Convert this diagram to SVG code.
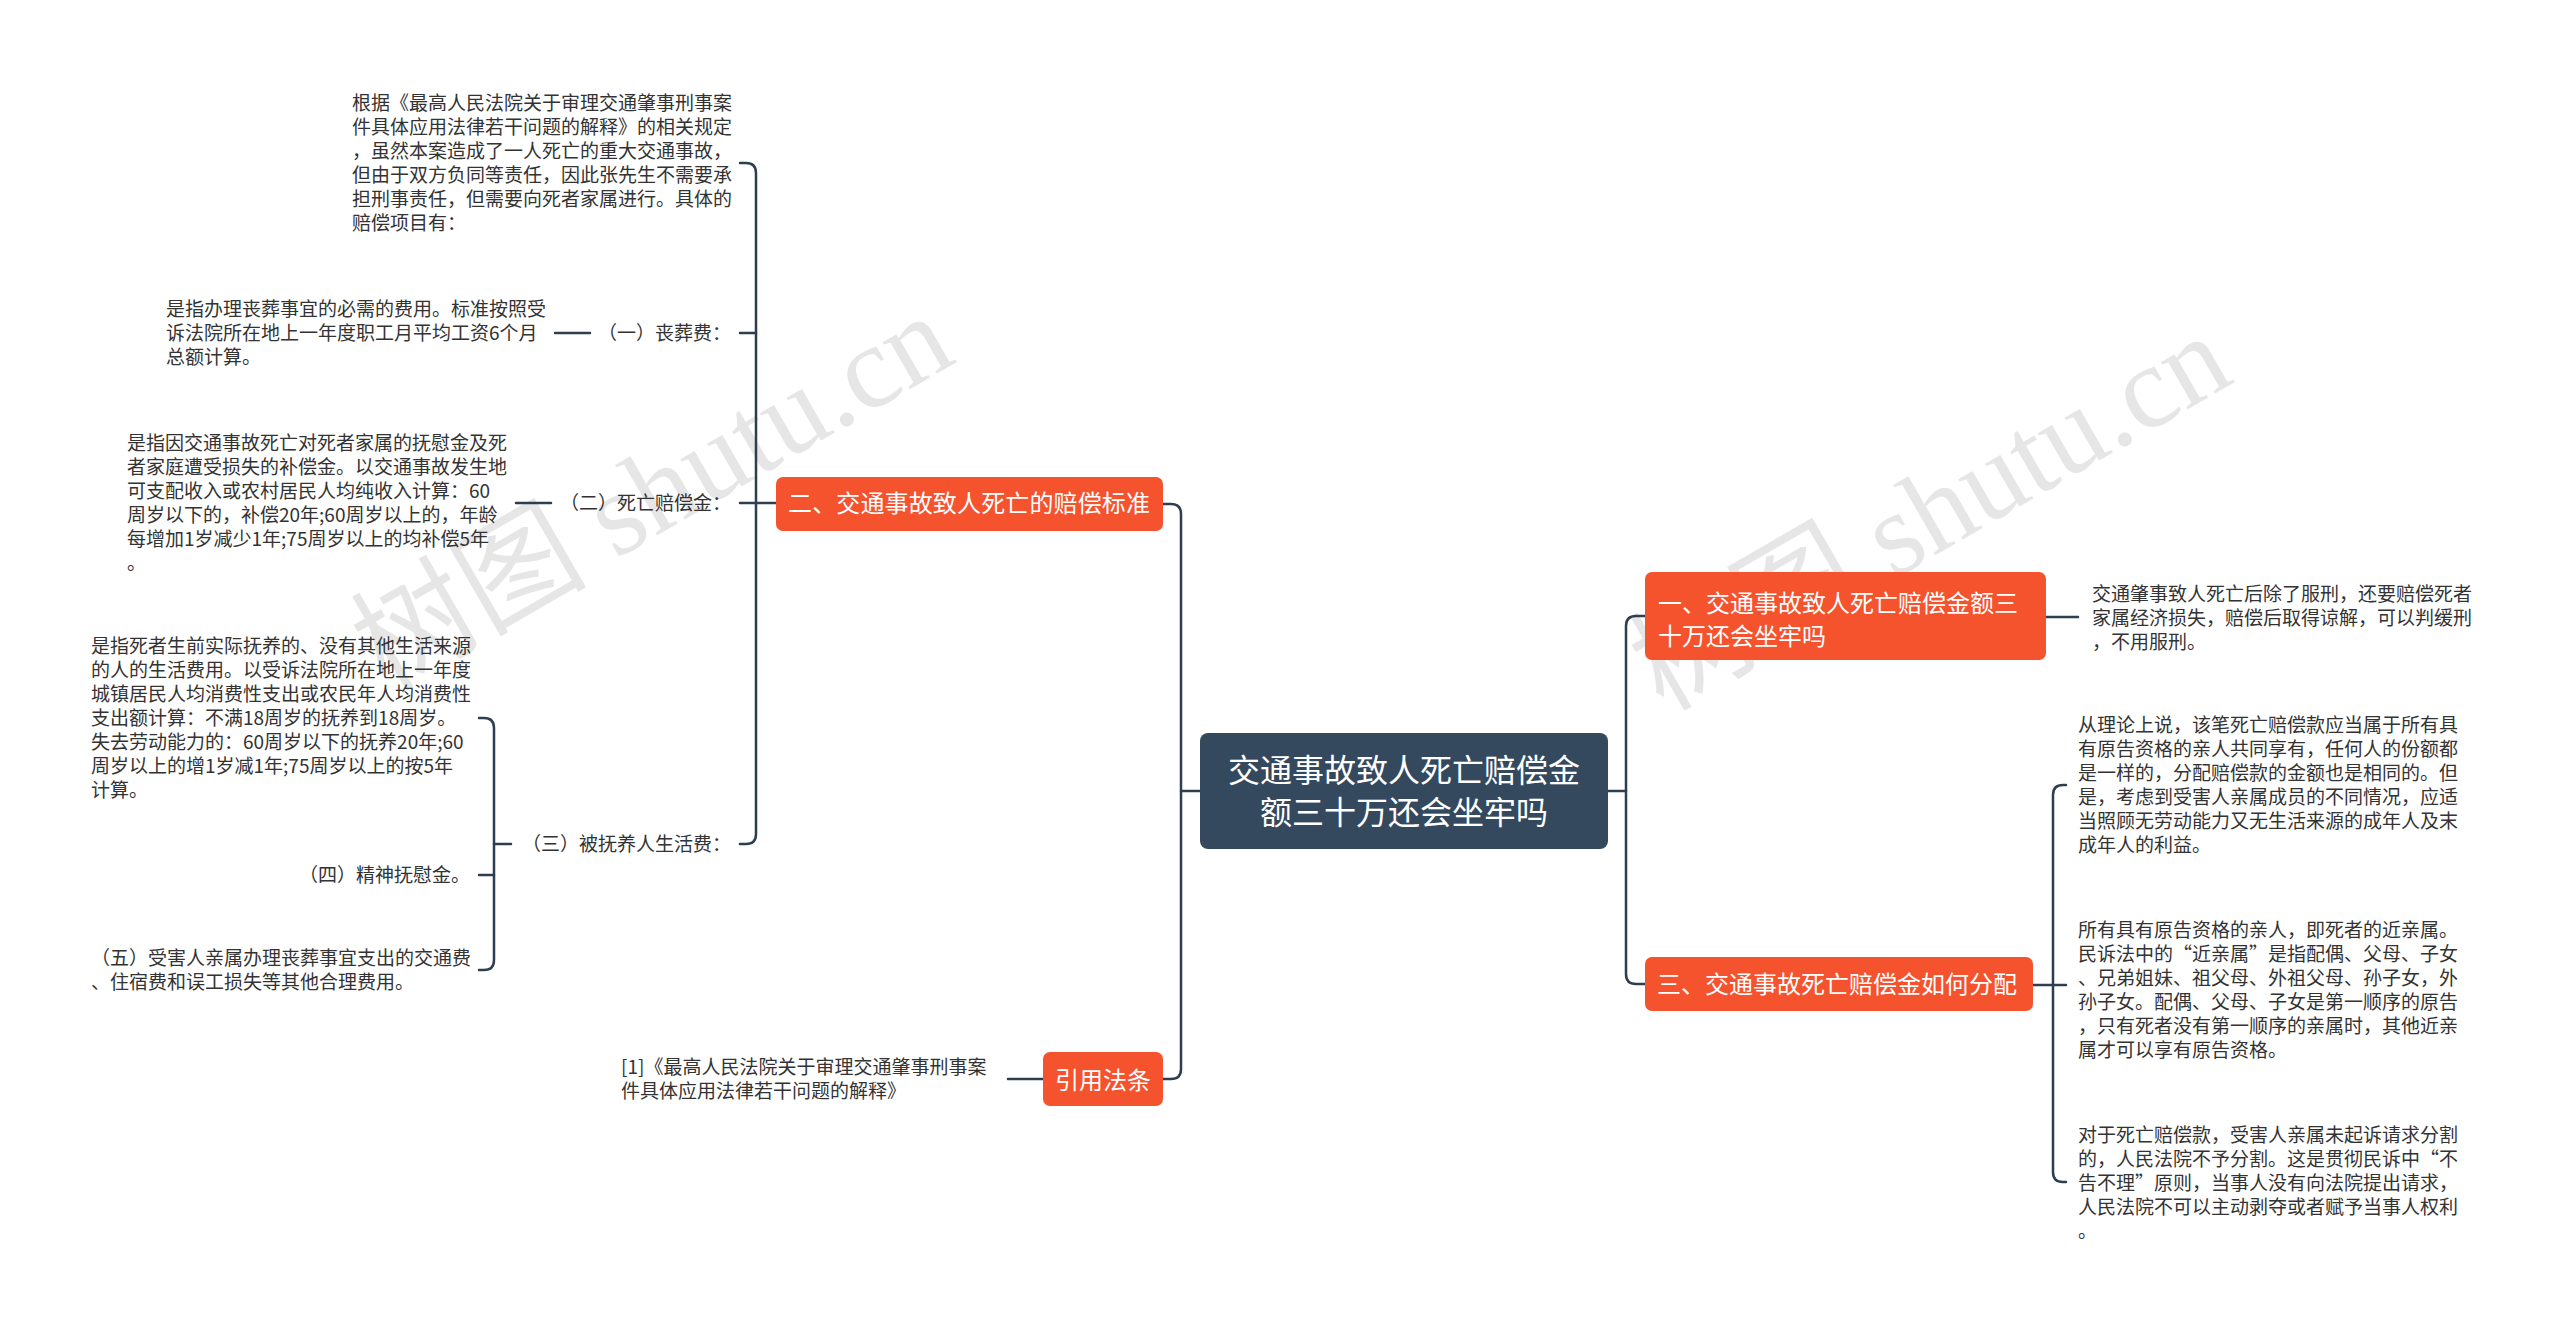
<svg xmlns="http://www.w3.org/2000/svg" width="2560" height="1334" viewBox="0 0 2560 1334">
<style>
.c{fill:none;stroke:#2d3e50;stroke-width:2.5;stroke-linecap:round}
.t{font-family:"Noto Sans CJK SC","Microsoft YaHei",sans-serif;font-size:19px;fill:#333}
.b{fill:#f5522e}
.bt{font-family:"Noto Sans CJK SC","Microsoft YaHei",sans-serif;fill:#fff}
.wm{font-family:"Liberation Serif","Noto Sans CJK SC",serif;font-size:118px;fill:#c8c8c8;fill-opacity:0.45}
</style>
<rect width="2560" height="1334" fill="#fff"/>
<g id="watermarks">
<text class="wm" text-anchor="middle" transform="translate(652,492) rotate(-30)" y="40">树图 shutu.cn</text>
<text class="wm" text-anchor="middle" transform="translate(1930,512) rotate(-30)" y="40">树图 shutu.cn</text>
</g>
<g id="connectors">
<path class="c" d="M1163,504 H1171 Q1181,504 1181,514 V1069 Q1181,1079 1171,1079 H1163"/>
<path class="c" d="M1181,791 H1200"/>
<path class="c" d="M1645,616 H1636 Q1626,616 1626,626 V974 Q1626,984 1636,984 H1645"/>
<path class="c" d="M1608,791 H1626"/>
<path class="c" d="M2046,617 H2078"/>
<path class="c" d="M2033,985 H2066"/>
<path class="c" d="M2066,785 H2063 Q2053,785 2053,795 V1172 Q2053,1182 2063,1182 H2066"/>
<path class="c" d="M740,163 H746 Q756,163 756,173 V834 Q756,844 746,844 H740"/>
<path class="c" d="M740,333 H756"/>
<path class="c" d="M740,503 H776"/>
<path class="c" d="M555,333 H590"/>
<path class="c" d="M516,503 H551"/>
<path class="c" d="M479,718 H484 Q494,718 494,728 V960 Q494,970 484,970 H479"/>
<path class="c" d="M494,844 H511"/>
<path class="c" d="M479,875 H494"/>
<path class="c" d="M1008,1079 H1043"/>
</g>
<g id="center">
<rect x="1200" y="733" width="408" height="116" rx="8" fill="#34495e"/>
<text class="bt" font-size="32" text-anchor="middle"><tspan x="1404" y="782">交通事故致人死亡赔偿金</tspan><tspan x="1404" y="824">额三十万还会坐牢吗</tspan></text>
</g>
<g id="n2">
<rect class="b" x="776" y="477" width="387" height="54" rx="7"/>
<text class="bt" font-size="24" x="788" y="512" textLength="362" lengthAdjust="spacing">二、交通事故致人死亡的赔偿标准</text>
</g>
<g id="n1">
<rect class="b" x="1645" y="572" width="401" height="88" rx="7"/>
<text class="bt" font-size="24"><tspan x="1658" y="612">一、交通事故致人死亡赔偿金额三</tspan><tspan x="1658" y="645">十万还会坐牢吗</tspan></text>
</g>
<g id="n3">
<rect class="b" x="1645" y="957" width="388" height="54" rx="7"/>
<text class="bt" font-size="24" x="1657" y="993">三、交通事故死亡赔偿金如何分配</text>
</g>
<g id="n4">
<rect class="b" x="1043" y="1052" width="120" height="54" rx="7"/>
<text class="bt" font-size="24" x="1103" y="1089" text-anchor="middle">引用法条</text>
</g>
<g id="n2-intro">
<text class="t"><tspan x="352" y="110">根据《最高人民法院关于审理交通肇事刑事案</tspan><tspan x="352" y="134">件具体应用法律若干问题的解释》的相关规定</tspan><tspan x="352" y="158">，虽然本案造成了一人死亡的重大交通事故，</tspan><tspan x="352" y="182">但由于双方负同等责任，因此张先生不需要承</tspan><tspan x="352" y="206">担刑事责任，但需要向死者家属进行。具体的</tspan><tspan x="352" y="230">赔偿项目有：</tspan></text>
</g>
<g id="n2-1">
<text class="t" x="731" y="340" text-anchor="end">（一）丧葬费：</text>
</g>
<g id="n2-1-d">
<text class="t"><tspan x="166" y="316">是指办理丧葬事宜的必需的费用。标准按照受</tspan><tspan x="166" y="340">诉法院所在地上一年度职工月平均工资6个月</tspan><tspan x="166" y="364">总额计算。</tspan></text>
</g>
<g id="n2-2">
<text class="t" x="731" y="510" text-anchor="end">（二）死亡赔偿金：</text>
</g>
<g id="n2-2-d">
<text class="t"><tspan x="127" y="450">是指因交通事故死亡对死者家属的抚慰金及死</tspan><tspan x="127" y="474">者家庭遭受损失的补偿金。以交通事故发生地</tspan><tspan x="127" y="498">可支配收入或农村居民人均纯收入计算：60</tspan><tspan x="127" y="522">周岁以下的，补偿20年;60周岁以上的，年龄</tspan><tspan x="127" y="546">每增加1岁减少1年;75周岁以上的均补偿5年</tspan><tspan x="127" y="570">。</tspan></text>
</g>
<g id="n2-3">
<text class="t" x="731" y="851" text-anchor="end">（三）被抚养人生活费：</text>
</g>
<g id="n2-3-d">
<text class="t"><tspan x="91" y="653">是指死者生前实际抚养的、没有其他生活来源</tspan><tspan x="91" y="677">的人的生活费用。以受诉法院所在地上一年度</tspan><tspan x="91" y="701">城镇居民人均消费性支出或农民年人均消费性</tspan><tspan x="91" y="725">支出额计算：不满18周岁的抚养到18周岁。</tspan><tspan x="91" y="749">失去劳动能力的：60周岁以下的抚养20年;60</tspan><tspan x="91" y="773">周岁以上的增1岁减1年;75周岁以上的按5年</tspan><tspan x="91" y="797">计算。</tspan></text>
</g>
<g id="n2-4">
<text class="t" x="470" y="882" text-anchor="end">（四）精神抚慰金。</text>
</g>
<g id="n2-5">
<text class="t"><tspan x="91" y="965">（五）受害人亲属办理丧葬事宜支出的交通费</tspan><tspan x="91" y="989">、住宿费和误工损失等其他合理费用。</tspan></text>
</g>
<g id="n1-d">
<text class="t"><tspan x="2092" y="601">交通肇事致人死亡后除了服刑，还要赔偿死者</tspan><tspan x="2092" y="625">家属经济损失，赔偿后取得谅解，可以判缓刑</tspan><tspan x="2092" y="649">，不用服刑。</tspan></text>
</g>
<g id="n3-1">
<text class="t"><tspan x="2078" y="732">从理论上说，该笔死亡赔偿款应当属于所有具</tspan><tspan x="2078" y="756">有原告资格的亲人共同享有，任何人的份额都</tspan><tspan x="2078" y="780">是一样的，分配赔偿款的金额也是相同的。但</tspan><tspan x="2078" y="804">是，考虑到受害人亲属成员的不同情况，应适</tspan><tspan x="2078" y="828">当照顾无劳动能力又无生活来源的成年人及末</tspan><tspan x="2078" y="852">成年人的利益。</tspan></text>
</g>
<g id="n3-2">
<text class="t"><tspan x="2078" y="937">所有具有原告资格的亲人，即死者的近亲属。</tspan><tspan x="2078" y="961">民诉法中的“近亲属”是指配偶、父母、子女</tspan><tspan x="2078" y="985">、兄弟姐妹、祖父母、外祖父母、孙子女，外</tspan><tspan x="2078" y="1009">孙子女。配偶、父母、子女是第一顺序的原告</tspan><tspan x="2078" y="1033">，只有死者没有第一顺序的亲属时，其他近亲</tspan><tspan x="2078" y="1057">属才可以享有原告资格。</tspan></text>
</g>
<g id="n3-3">
<text class="t"><tspan x="2078" y="1142">对于死亡赔偿款，受害人亲属未起诉请求分割</tspan><tspan x="2078" y="1166">的，人民法院不予分割。这是贯彻民诉中“不</tspan><tspan x="2078" y="1190">告不理”原则，当事人没有向法院提出请求，</tspan><tspan x="2078" y="1214">人民法院不可以主动剥夺或者赋予当事人权利</tspan><tspan x="2078" y="1238">。</tspan></text>
</g>
<g id="n4-d">
<text class="t"><tspan x="621" y="1074">[1]《最高人民法院关于审理交通肇事刑事案</tspan><tspan x="621" y="1098">件具体应用法律若干问题的解释》</tspan></text>
</g>
</svg>
